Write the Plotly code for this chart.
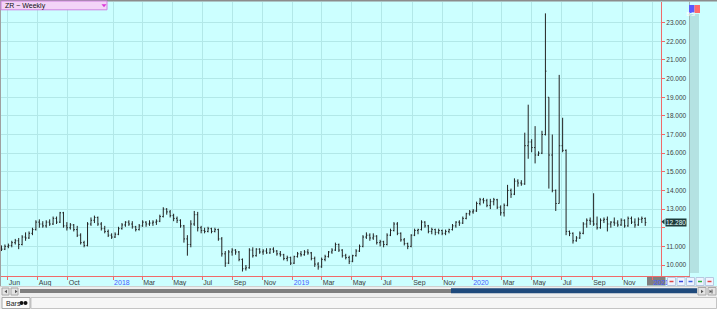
import plotly.graph_objects as go
import pandas as pd

# ---------------- data (weekly OHLC, rough rice ZR) ----------------
first_week = "2017-05-19"

opens = [10.95,10.85,11.00,11.05,11.20,11.30,11.10,11.50,11.45,11.70,
         11.90,12.30,12.20,12.10,12.30,12.20,12.50,12.30,12.80,12.10,
         12.00,12.15,11.90,11.60,11.20,11.05,12.20,12.40,12.55,12.20,
         11.95,11.80,11.60,11.50,11.65,11.95,12.15,12.30,12.20,12.05,
         11.90,12.10,12.30,12.20,12.25,12.30,12.35,12.60,13.00,12.85,
         12.65,12.50,12.40,12.10,11.40,11.10,12.20,12.70,12.00,11.85,
         11.80,11.95,11.80,11.90,11.40,10.60,10.10,10.70,10.80,10.70,
         10.30,9.80,9.85,10.80,10.50,10.85,10.70,10.75,10.65,10.85,
         10.75,10.60,10.55,10.35,10.40,10.10,10.45,10.60,10.55,10.70,
         10.65,10.35,10.05,9.90,10.30,10.45,10.70,10.80,11.10,10.80,
         10.50,10.40,10.20,10.50,10.75,11.00,11.50,11.60,11.45,11.55,
         11.20,11.25,11.10,11.60,11.85,12.20,11.70,11.35,11.15,11.00,
         11.60,11.85,11.90,12.30,12.10,11.80,11.90,11.75,11.85,11.70,
         11.80,11.90,12.10,12.30,12.25,12.50,12.75,12.85,12.90,13.30,
         13.50,13.45,13.20,13.40,13.50,13.10,12.80,13.20,14.00,13.80,
         14.50,14.40,14.35,16.40,16.60,16.30,15.90,16.00,17.00,19.00,
         15.90,14.00,13.30,16.40,16.15,11.80,11.70,11.30,11.45,11.70,
         12.20,12.40,12.35,12.20,12.00,12.40,12.45,12.20,12.30,12.25,
         12.15,12.40,12.10,12.50,12.30,12.15,12.45,12.50]

highs = [11.05,11.10,11.15,11.30,11.40,11.45,11.60,11.75,11.80,12.00,
         12.40,12.45,12.35,12.40,12.45,12.60,12.60,12.85,12.85,12.30,
         12.25,12.20,12.10,11.70,11.30,12.30,12.55,12.65,12.60,12.30,
         12.10,11.90,11.70,11.75,12.05,12.25,12.35,12.40,12.35,12.10,
         12.20,12.40,12.35,12.40,12.40,12.45,12.70,13.10,13.05,12.95,
         12.75,12.60,12.45,12.15,11.60,12.40,12.90,12.85,12.10,12.00,
         12.05,12.00,12.00,11.95,11.50,10.75,10.80,10.90,10.85,10.75,
         10.35,10.00,10.90,10.95,10.90,10.90,10.85,10.90,10.90,10.95,
         10.80,10.75,10.60,10.50,10.45,10.50,10.70,10.75,10.80,10.85,
         10.70,10.45,10.15,10.40,10.55,10.75,10.90,11.20,11.15,10.85,
         10.60,10.50,10.55,10.85,11.10,11.60,11.75,11.70,11.70,11.60,
         11.35,11.30,11.70,11.95,12.30,12.30,11.75,11.45,11.20,11.65,
         11.95,11.95,12.40,12.35,12.15,12.00,11.95,11.95,11.90,11.90,
         11.95,12.20,12.35,12.40,12.60,12.80,12.95,13.00,13.40,13.60,
         13.60,13.55,13.55,13.60,13.55,13.20,13.30,14.30,14.10,14.65,
         14.60,14.55,17.10,18.60,16.75,17.45,16.10,17.20,23.50,19.00,
         17.00,14.05,20.20,17.90,16.20,11.85,11.75,11.55,11.80,12.30,
         12.50,12.55,13.85,12.60,12.50,12.55,12.60,12.35,12.55,12.40,
         12.50,12.45,12.60,12.60,12.50,12.55,12.60,12.55]

lows = [10.75,10.80,10.90,10.95,11.10,10.85,11.05,11.30,11.40,11.60,
        11.85,12.00,12.00,12.00,12.10,12.15,12.20,12.25,12.00,11.85,
        11.90,11.80,11.50,11.10,10.95,11.00,12.10,12.25,12.10,11.85,
        11.70,11.50,11.40,11.45,11.60,11.90,12.05,12.10,11.95,11.80,
        11.85,12.05,12.05,12.10,12.10,12.15,12.30,12.55,12.70,12.55,
        12.35,12.25,12.00,11.20,10.50,10.95,12.10,11.80,11.70,11.70,
        11.75,11.70,11.75,11.30,10.45,9.90,10.05,10.50,10.55,10.20,
        9.65,9.70,9.80,10.40,10.45,10.60,10.55,10.60,10.60,10.65,
        10.50,10.45,10.25,10.20,10.00,10.05,10.40,10.45,10.50,10.55,
        10.25,9.90,9.75,9.85,10.20,10.40,10.60,10.75,10.70,10.40,
        10.30,10.05,10.15,10.45,10.70,10.95,11.40,11.30,11.35,11.10,
        11.00,10.95,11.05,11.55,11.80,11.60,11.25,11.05,10.85,10.95,
        11.55,11.65,11.85,12.00,11.70,11.65,11.60,11.65,11.60,11.60,
        11.70,11.85,12.00,12.10,12.20,12.45,12.65,12.75,12.85,13.20,
        13.30,13.10,13.00,13.20,13.00,12.65,12.60,13.15,13.60,13.75,
        14.20,14.25,14.30,15.70,16.05,15.45,15.85,15.95,16.95,14.10,
        13.90,12.90,13.30,16.05,11.60,11.55,11.15,11.25,11.40,11.65,
        12.00,12.15,12.10,11.90,11.95,12.25,11.80,12.00,12.10,12.05,
        12.10,12.00,12.05,12.20,12.00,12.10,12.25,12.10]

closes = [10.85,11.00,11.05,11.20,11.30,11.10,11.50,11.45,11.70,11.90,
          12.30,12.20,12.10,12.30,12.20,12.50,12.30,12.80,12.10,12.00,
          12.15,11.90,11.60,11.20,11.05,12.20,12.40,12.55,12.20,11.95,
          11.80,11.60,11.50,11.65,11.95,12.15,12.30,12.20,12.05,11.90,
          12.10,12.30,12.20,12.25,12.30,12.35,12.60,13.00,12.85,12.65,
          12.50,12.40,12.10,11.40,11.10,12.20,12.70,12.00,11.85,11.80,
          11.95,11.80,11.90,11.40,10.60,10.10,10.70,10.80,10.70,10.30,
          9.80,9.85,10.80,10.50,10.85,10.70,10.75,10.65,10.85,10.75,
          10.60,10.55,10.35,10.40,10.10,10.45,10.60,10.55,10.70,10.65,
          10.35,10.05,9.90,10.30,10.45,10.70,10.80,11.10,10.80,10.50,
          10.40,10.20,10.50,10.75,11.00,11.50,11.60,11.45,11.55,11.20,
          11.25,11.10,11.60,11.85,12.20,11.70,11.35,11.15,11.00,11.60,
          11.85,11.90,12.30,12.10,11.80,11.90,11.75,11.85,11.70,11.80,
          11.90,12.10,12.30,12.25,12.50,12.75,12.85,12.90,13.30,13.50,
          13.45,13.20,13.40,13.50,13.10,12.80,13.20,14.00,13.80,14.50,
          14.40,14.35,16.40,16.60,16.30,15.90,16.00,17.00,20.40,15.90,
          14.00,13.30,16.40,16.15,11.80,11.70,11.30,11.45,11.70,12.20,
          12.40,12.35,12.20,12.00,12.40,12.45,12.20,12.30,12.25,12.15,
          12.40,12.10,12.50,12.30,12.15,12.45,12.50,12.28]

assert len(opens) == len(highs) == len(lows) == len(closes)
weeks = pd.date_range(first_week, periods=len(closes), freq="7D")

tick_dates = ["2017-06-01", "2017-08-01", "2017-10-01", "2018-01-01", "2018-03-01",
              "2018-05-01", "2018-07-01", "2018-09-01", "2018-11-01", "2019-01-01",
              "2019-03-01", "2019-05-01", "2019-07-01", "2019-09-01", "2019-11-01",
              "2020-01-01", "2020-03-01", "2020-05-01", "2020-07-01", "2020-09-01",
              "2020-11-01", "2021-01-01"]
tick_labels = ["Jun", "Aug", "Oct", "2018", "Mar", "May", "Jul", "Sep", "Nov", "2019",
               "Mar", "May", "Jul", "Sep", "Nov", "2020", "Mar", "May", "Jul", "Sep",
               "Nov", "2021"]
price_ticks = [10, 11, 12, 13, 14, 15, 16, 17, 18, 19, 20, 21, 22, 23]

# ---------------- styling ----------------
W, H = 717, 309
ML, MR, MT, MB = 0, 56, 2, 33
PW, PH = W - ML - MR, H - MT - MB
BG = "#ccffff"
GRID = "#b2e8e8"
RED = "#f06a6a"
BLUE = "#4a5cff"
FONT = "Liberation Sans"


def fx(p):
    return (p - ML) / PW


def fy(p):
    return (H - MB - p) / PH


shapes = []


def rect(x0, y0, x1, y1, fill, line=None, lw=1, layer="above"):
    shapes.append(dict(type="rect", xref="paper", yref="paper",
                       x0=fx(x0), x1=fx(x1), y0=fy(y1), y1=fy(y0),
                       fillcolor=fill, layer=layer,
                       line=dict(color=line or fill, width=lw if line else 0)))


def seg(x0, y0, x1, y1, color, lw=1, layer="above"):
    shapes.append(dict(type="line", xref="paper", yref="paper",
                       x0=fx(x0), x1=fx(x1), y0=fy(y0), y1=fy(y1),
                       layer=layer, line=dict(color=color, width=lw)))


def tri(pts, fill):
    path = "M " + " L ".join(f"{fx(a)},{fy(b)}" for a, b in pts) + " Z"
    shapes.append(dict(type="path", xref="paper", yref="paper", path=path,
                       fillcolor=fill, line=dict(width=0), layer="above"))


ticktext = [f'<span style="color:{BLUE}">{t}</span>' if t.isdigit() else t
            for t in tick_labels]
last = closes[-1]
# the current-price marker covers the nearest round price label
price_text = ["" if abs(v - last) < 0.5 else f"{v:.3f}" for v in price_ticks]

fig = go.Figure(go.Ohlc(
    x=weeks, open=opens, high=highs, low=lows, close=closes,
    increasing=dict(line=dict(color="#222222", width=1)),
    decreasing=dict(line=dict(color="#222222", width=1)),
    tickwidth=0.3, hoverinfo="skip", showlegend=False))

# chrome: borders / strips
rect(0, 0, 717, 1.5, "#8c8c8c")
seg(0.5, 0, 0.5, 287, "#a0a0a0")
seg(689.5, 1.5, 689.5, 276, "#9fb5b5")
rect(690, 14, 699, 273, "#b4e2e2")
seg(661, 276.5, 690, 276.5, RED)
# date cursor box
rect(647, 277, 665.5, 285.5, "#7f7f7f", layer="below")
# bottom scrollbar row
rect(0, 286.5, 717, 309, "#eeeeee")
seg(0, 286.5, 717, 286.5, "#d0d0d0")
for bx in (2, 11):
    rect(bx, 288, bx + 7, 295, "#e4e4e4", "#a8a8a8")
tri([(7, 289.8), (7, 293.2), (4.5, 291.5)], "#555555")
tri([(15, 289.8), (15, 293.2), (17.5, 291.5)], "#555555")
rect(20, 289.5, 451, 290.6, "#111111")
rect(20, 291.4, 451, 292.5, "#111111")
rect(451, 288.2, 697, 293.2, "#1f4a7c")
for bx in (698, 708):
    rect(bx, 287.5, bx + 8, 295, "#e4e4e4", "#a8a8a8")
tri([(701, 289.8), (701, 293.2), (703.5, 291.5)], "#555555")
seg(712, 289.5, 712, 293.5, "#555555")
tri([(709.5, 289.8), (709.5, 293.2), (711.8, 291.5)], "#555555")
# tab row
rect(31, 297.5, 716.5, 308.5, "#f6f6f6", "#c4c4c4")
rect(2, 297.5, 30, 308.5, "#fbfbfb", "#a9a9a9")
shapes.append(dict(type="circle", xref="paper", yref="paper", x0=fx(19.5), x1=fx(23.5),
                   y0=fy(305), y1=fy(301), fillcolor="#111", line=dict(width=0)))
shapes.append(dict(type="circle", xref="paper", yref="paper", x0=fx(23.5), x1=fx(27.5),
                   y0=fy(305), y1=fy(301), fillcolor="#111", line=dict(width=0)))
# small toolbar buttons at bottom right
btn_colors = ["#e04848", "#3a48e0", "#3a60e0", "#30b040", "#e04848"]
for k, c in enumerate(btn_colors):
    bx = 667.5 + k * 9.5
    rect(bx, 277.5, bx + 8, 285.5, "#eef4ff", "#b8c8e0")
    seg(bx + 2, 281.5, bx + 6, 281.5, c, 1.5)
# title box
rect(1, 1, 107, 9.8, "#f3d4f8", "#cf80e0")
tri([(101.5, 4.2), (106.5, 4.2), (104, 7.2)], "#d838d8")
# B / S boxes
rect(689, 5, 694.5, 13, "#5a5aff")
rect(694.5, 5, 700, 13, "#ff6a6a")
# price pointer
tri([(661.5, 221.8), (664.5, 219), (664.5, 224.6)], "#1d3b3b")

annotations = [
    dict(text="ZR ~ Weekly", x=fx(3), y=fy(5.6), xref="paper", yref="paper",
         xanchor="left", yanchor="middle", showarrow=False,
         font=dict(size=7, color="#111", family=FONT)),
    dict(text="B", x=fx(691.8), y=fy(9), xref="paper", yref="paper",
         showarrow=False, font=dict(size=6, color="white", family=FONT)),
    dict(text="S", x=fx(697.3), y=fy(9), xref="paper", yref="paper",
         showarrow=False, font=dict(size=6, color="white", family=FONT)),
    dict(text="Bars", x=fx(4), y=fy(303), xref="paper", yref="paper",
         xanchor="left", yanchor="middle", showarrow=False,
         font=dict(size=7, color="#222", family=FONT)),
    dict(text=f"{last:.3f}", x=fx(664.5), y=last, xref="paper", yref="y",
         xanchor="left", yanchor="middle", showarrow=False, bgcolor="#1d3b3b",
         borderpad=0, font=dict(size=6.5, color="#e6ffff", family=FONT)),
]

fig.update_layout(
    width=W, height=H, margin=dict(l=ML, r=MR, t=MT, b=MB, pad=0),
    paper_bgcolor=BG, plot_bgcolor=BG,
    font=dict(family=FONT, size=7, color="#404040"),
    shapes=shapes, annotations=annotations, showlegend=False,
    xaxis=dict(type="date", range=["2017-05-16", "2021-01-19"],
               tickvals=tick_dates, ticktext=ticktext,
               ticklabelposition="outside right",
               ticks="outside", ticklen=3, tickcolor=RED,
               showline=True, linecolor=RED, linewidth=1,
               showgrid=True, gridcolor=GRID, gridwidth=1,
               zeroline=False, rangeslider=dict(visible=False),
               tickfont=dict(size=7, color="#404040", family=FONT)),
    yaxis=dict(side="right", range=[9.41, 24.11], tickvals=price_ticks,
               ticktext=price_text, ticks="outside", ticklen=3, tickcolor=RED,
               showline=True, linecolor=RED, linewidth=1,
               showgrid=True, gridcolor=GRID, gridwidth=1, zeroline=False,
               tickfont=dict(size=6.5, color="#404040", family=FONT)),
)

fig.write_html("out.html")
